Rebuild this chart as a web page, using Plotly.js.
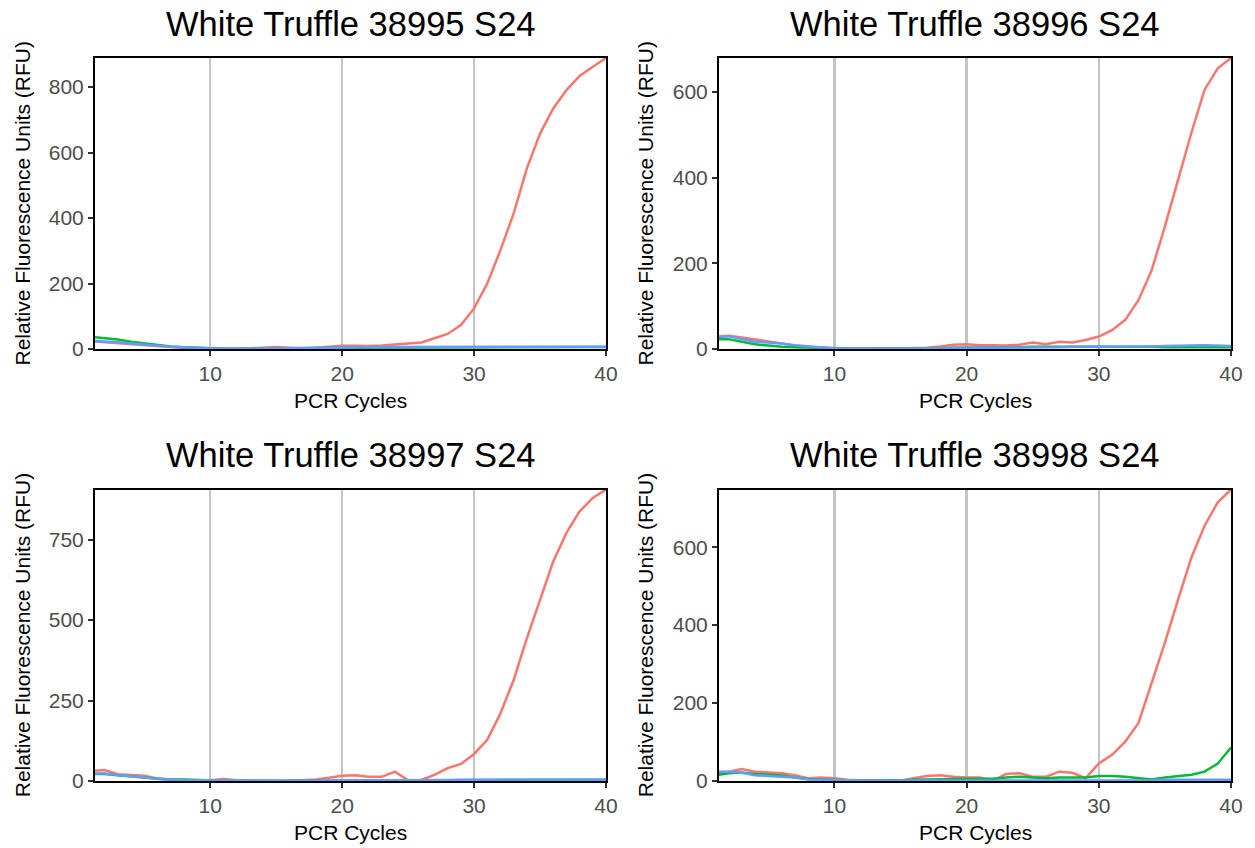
<!DOCTYPE html>
<html>
<head>
<meta charset="utf-8">
<script src="https://cdn.plot.ly/plotly-3.0.1.min.js"></script>
<style>html,body{margin:0;padding:0;background:#fff;}#chart{width:1255px;height:848px;}</style>
</head>
<body>
<div id="chart"></div>
<script>
// PCR cycles 1..40
const cycles = [1,2,3,4,5,6,7,8,9,10,11,12,13,14,15,16,17,18,19,20,21,22,23,24,25,26,27,28,29,30,31,32,33,34,35,36,37,38,39,40];

const panelTitles = ["White Truffle 38995 S24","White Truffle 38996 S24","White Truffle 38997 S24","White Truffle 38998 S24"];

// Sample 38995
const red38995   = [24,21,17,13,10,7,5,3,2,1,0,1,2,3,6,4,2,4,8,10,10,9,11,14,17,20,33,46,73,124,200,302,414,552,658,735,791,834,862,889];
const green38995 = [37,34,29,22,17,12,8,5,3,1,1,1,2,2,2,2,3,3,3,4,4,4,5,5,5,5,5,5,6,6,6,6,6,5,5,6,6,6,6,6];
const blue38995  = [25,24,21,17,13,10,7,5,3,2,1,1,1,2,2,2,3,3,4,5,5,5,6,6,6,6,6,6,7,7,7,7,7,6,6,6,6,6,7,7];

// Sample 38996
const red38996   = [29,31,27,22,17,12,8,5,3,1,0,0,1,1,1,2,3,6,10,11,9,9,8,10,15,11,17,15,21,29,44,68,114,184,286,395,504,605,655,679];
const green38996 = [23,23,17,11,8,5,4,3,2,1,1,1,1,1,1,2,2,2,3,3,3,4,4,4,5,5,5,5,6,6,5,5,5,5,4,4,4,4,4,4];
const blue38996  = [27,30,23,17,15,13,9,6,3,1,1,1,1,1,2,2,2,2,3,3,3,3,3,4,4,4,4,5,5,5,6,6,6,6,7,7,8,9,8,7];

// Sample 38997
const red38997   = [31,34,21,19,16,8,5,3,2,2,6,2,1,0,0,1,2,5,10,16,18,13,13,29,2,3,19,40,53,84,128,210,314,443,563,682,771,838,880,906];
const green38997 = [22,22,18,15,11,7,4,5,3,1,1,1,1,1,1,1,1,1,2,2,2,2,2,2,2,3,3,3,3,3,3,3,3,3,3,3,3,3,3,3];
const blue38997  = [23,23,19,16,11,6,3,2,2,1,1,1,1,1,1,1,1,2,2,2,2,2,3,3,3,3,3,3,4,4,4,4,4,4,4,4,5,5,5,5];

// Sample 38998
const red38998   = [20,24,31,24,22,20,15,7,9,7,3,1,0,0,1,7,13,15,11,9,9,1,18,20,11,11,24,21,7,45,67,101,149,252,355,466,573,655,715,748];
const green38998 = [15,20,22,18,17,14,9,5,4,2,1,1,1,1,2,3,4,5,5,6,6,6,9,11,9,7,9,9,9,13,13,11,7,4,9,12,16,24,45,86];
const blue38998  = [24,24,21,15,13,11,9,4,3,2,1,1,1,1,1,1,1,1,1,1,1,1,2,2,2,2,2,2,2,2,2,2,2,2,3,3,3,3,3,3];

const xTicks = [10,20,30,40];
const yTicks = [[0,200,400,600,800],[0,200,400,600],[0,250,500,750],[0,200,400,600]];

const colors = {red:"#F8766D", green:"#00BA38", blue:"#619CFF"};
const panels = [
  [red38995, green38995, blue38995],
  [red38996, green38996, blue38996],
  [red38997, green38997, blue38997],
  [red38998, green38998, blue38998]
];

const FONT = "Liberation Sans, Arial, Helvetica, sans-serif";
const W = 1255, H = 848;
const xDom = [[95/W, 606/W],[719/W, 1231/W]];
const yDom = [[1-349/H, 1-58/H],[1-781/H, 1-489.5/H]];

const traces = [];
const layout = {
  width: W, height: H,
  margin: {l:0, r:0, t:0, b:0},
  paper_bgcolor: "#fff", plot_bgcolor: "#fff",
  showlegend: false,
  font: {family: FONT},
  annotations: []
};

panels.forEach((series, i) => {
  const n = i + 1;
  const xa = "x" + (n === 1 ? "" : n), ya = "y" + (n === 1 ? "" : n);
  const names = ["red","green","blue"];
  series.forEach((vals, k) => {
    traces.push({x: cycles, y: vals, type: "scatter", mode: "lines", xaxis: xa, yaxis: ya,
      line: {color: colors[names[k]], width: 2.5}, hoverinfo: "skip"});
  });
  const col = i % 2, row = Math.floor(i / 2);
  const ymax = Math.max(...series[0], ...series[1], ...series[2]);
  layout["xaxis" + (n === 1 ? "" : n)] = {
    domain: xDom[col], anchor: ya, range: [1.27, 40],
    tickvals: xTicks, ticktext: xTicks.map(String),
    showgrid: true, gridcolor: "#c4c4c4", gridwidth: 2.4,
    zeroline: false, showline: true, mirror: true, linecolor: "#000", linewidth: 2,
    ticks: "outside", ticklen: 5, tickwidth: 2, tickcolor: "#333",
    tickfont: {family: FONT, size: 21, color: "#4d4d4d"}
  };
  layout["yaxis" + (n === 1 ? "" : n)] = {
    domain: yDom[row], anchor: xa, range: [0, ymax],
    tickvals: yTicks[i], ticktext: yTicks[i].map(String),
    showgrid: false, zeroline: false, showline: true, mirror: true, linecolor: "#000", linewidth: 2,
    ticks: "outside", ticklen: 5, tickwidth: 2, tickcolor: "#333",
    tickfont: {family: FONT, size: 21, color: "#4d4d4d"}
  };
  const cx = (xDom[col][0] + xDom[col][1]) / 2;
  const cy = (yDom[row][0] + yDom[row][1]) / 2;
  layout.annotations.push({text: panelTitles[i], xref: "paper", yref: "paper", x: cx,
    y: row === 0 ? 1 - 24/H : 1 - 455/H, xanchor: "center", yanchor: "middle", showarrow: false,
    font: {family: FONT, size: 34.5, color: "#000"}});
  layout.annotations.push({text: "PCR Cycles", xref: "paper", yref: "paper", x: cx,
    y: row === 0 ? 1 - 400/H : 1 - 832/H, xanchor: "center", yanchor: "middle", showarrow: false,
    font: {family: FONT, size: 21, color: "#000"}});
  layout.annotations.push({text: "Relative Fluorescence Units (RFU)", xref: "paper", yref: "paper",
    x: col === 0 ? 22/W : 645/W, y: cy, xanchor: "center", yanchor: "middle", textangle: -90, showarrow: false,
    font: {family: FONT, size: 21, color: "#000"}});
});

Plotly.newPlot("chart", traces, layout, {staticPlot: true});
</script>
</body>
</html>
